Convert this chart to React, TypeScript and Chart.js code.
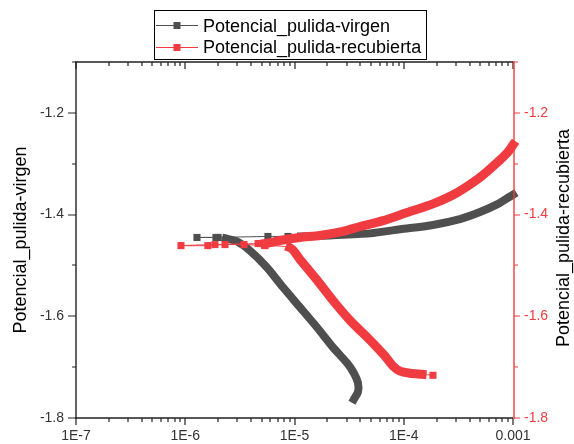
import React, { useEffect, useRef } from 'react';
import { Chart, registerables } from 'chart.js';

Chart.register(...registerables);

// ---- text ----
const xTickLabels = ['1E-7', '1E-6', '1E-5', '1E-4', '0.001'];
const yTickLabels = ['-1.8', '-1.6', '-1.4', '-1.2'];
const legendLabels = ['Potencial_pulida-virgen', 'Potencial_pulida-recubierta'];
const leftTitle = 'Potencial_pulida-virgen';
const rightTitle = 'Potencial_pulida-recubierta';

// ---- series: Potencial_pulida-virgen (current A, potential V) ----
const virgenCathI = [3.5e-5, 3.81e-5, 3.81e-5, 3.5e-5, 3.03e-5, 2.25e-5, 1.61e-5, 1.12e-5, 7.85e-6, 5.6e-6, 3.92e-6, 2.98e-6, 2.36e-6];
const virgenCathE = [-1.763, -1.749, -1.731, -1.712, -1.692, -1.661, -1.622, -1.582, -1.543, -1.504, -1.471, -1.453, -1.447];
const virgenJuncI = [2.0e-6, 1.28e-6, 1.91e-6, 5.71e-6, 8.72e-6];
const virgenJuncE = [-1.445, -1.445, -1.445, -1.443, -1.443];
const virgenAnodI = [1.15e-5, 2.11e-5, 4.91e-5, 9.25e-5, 1.8e-4, 3.27e-4, 4.99e-4, 7.15e-4, 9.0e-4, 1.0e-3];
const virgenAnodE = [-1.443, -1.441, -1.437, -1.429, -1.421, -1.409, -1.395, -1.38, -1.367, -1.361];

// ---- series: Potencial_pulida-recubierta ----
const recubTailI = [1.85e-4];
const recubTailE = [-1.716];
const recubCathI = [1.47e-4, 1.14e-4, 9.25e-5, 7.98e-5, 6.73e-5, 5.46e-5, 4.61e-5, 3.22e-5, 2.25e-5, 1.61e-5, 1.12e-5, 9.1e-6];
const recubCathE = [-1.714, -1.712, -1.708, -1.698, -1.678, -1.657, -1.641, -1.608, -1.569, -1.529, -1.488, -1.465];
const recubJuncI = [5.37e-6, 3.45e-6, 2.31e-6, 1.61e-6, 9.14e-7, 1.87e-6, 4.64e-6];
const recubJuncE = [-1.461, -1.459, -1.459, -1.461, -1.461, -1.459, -1.457];
const recubAnodI = [5.37e-6, 7.36e-6, 1.12e-5, 1.71e-5, 2.78e-5, 3.98e-5, 6.46e-5, 1.07e-4, 1.85e-4, 3.07e-4, 4.99e-4, 7.15e-4, 9.0e-4, 1.0e-3];
const recubAnodE = [-1.457, -1.451, -1.445, -1.441, -1.433, -1.4235, -1.412, -1.396, -1.379, -1.357, -1.327, -1.298, -1.277, -1.263];

const GRAY = '#4f4f4f';
const RED = '#f03c41';
const AXIS = '#222222';
const LABEL = '#333333';
const FONT = "'Liberation Sans', Arial, sans-serif";

type Section = { i: number[]; e: number[]; sparse: boolean };

function build(sections: Section[]) {
  const data: { x: number; y: number }[] = [];
  const sparse: boolean[] = [];
  sections.forEach((s) => {
    s.i.forEach((c, k) => {
      data.push({ x: c, y: s.e[k] });
      sparse.push(s.sparse);
    });
  });
  return { data, sparse };
}

function makeDataset(label: string, color: string, sections: Section[], width: number, order: number) {
  const { data, sparse } = build(sections);
  return {
    label,
    data,
    showLine: true,
    order,
    clip: false as any,
    tension: 0.25,
    borderColor: color,
    backgroundColor: color,
    borderWidth: width,
    borderCapStyle: 'square' as const,
    borderJoinStyle: 'round' as const,
    pointStyle: 'rect' as const,
    pointRadius: (c: any) => (sparse[c.dataIndex] ? 5 : 0),
    pointBorderWidth: 0,
    segment: {
      borderWidth: (c: any) => (sparse[c.p0DataIndex] || sparse[c.p1DataIndex] ? 1 : width),
    },
  };
}

const isPow10 = (v: number) => {
  const e = Math.log10(v);
  return Math.abs(e - Math.round(e)) < 1e-6;
};

const decorPlugin = {
  id: 'decor',
  afterDraw(chart: any) {
    const { ctx, chartArea } = chart;
    const L = Math.round(chartArea.left);
    const R = Math.round(chartArea.right);
    const T = Math.round(chartArea.top);
    const B = Math.round(chartArea.bottom);
    const xs = chart.scales.x;
    const ys = chart.scales.y;
    const y2 = chart.scales.y2;
    ctx.save();
    ctx.lineWidth = 1.4;
    ctx.lineCap = 'butt';
    ctx.strokeStyle = AXIS;
    ctx.beginPath();
    // frame lines
    ctx.moveTo(L - 1, T);
    ctx.lineTo(R, T);
    ctx.moveTo(L - 1, B);
    ctx.lineTo(R, B);
    ctx.moveTo(L, T);
    ctx.lineTo(L, B + 1);
    ctx.stroke();
    ctx.lineWidth = 1.2;
    ctx.beginPath();
    // x ticks (bottom outward, top inward)
    for (let d = -7; d <= -3; d++) {
      for (let m = 1; m <= 9; m++) {
        if (d === -3 && m > 1) break;
        const v = m * Math.pow(10, d);
        const px = Math.round(xs.getPixelForValue(v));
        const len = m === 1 ? 7 : 4;
        ctx.moveTo(px, B);
        ctx.lineTo(px, B + len);
        ctx.moveTo(px, T);
        ctx.lineTo(px, T + len);
      }
    }
    // left ticks (outward)
    ys.ticks.forEach((t: any) => {
      const major = Math.abs(t.value * 5 - Math.round(t.value * 5)) < 1e-6;
      const py = Math.round(ys.getPixelForValue(t.value));
      const len = major ? 8 : 4;
      ctx.moveTo(L - len, py);
      ctx.lineTo(L, py);
    });
    ctx.stroke();
    // right axis (red)
    ctx.strokeStyle = RED;
    ctx.lineWidth = 1.4;
    ctx.beginPath();
    ctx.moveTo(R + 1, T - 1);
    ctx.lineTo(R + 1, B + 1);
    ctx.stroke();
    ctx.lineWidth = 1.2;
    ctx.beginPath();
    y2.ticks.forEach((t: any) => {
      const major = Math.abs(t.value * 5 - Math.round(t.value * 5)) < 1e-6;
      const py = Math.round(y2.getPixelForValue(t.value));
      const len = major ? 6 : 4;
      ctx.moveTo(R + 1, py);
      ctx.lineTo(R + 1 + len, py);
    });
    ctx.stroke();

    // right title (reads bottom to top)
    ctx.save();
    ctx.translate(564, (chartArea.top + chartArea.bottom) / 2 - 2);
    ctx.rotate(-Math.PI / 2);
    ctx.fillStyle = '#000';
    ctx.font = `18px ${FONT}`;
    ctx.textAlign = 'center';
    ctx.textBaseline = 'middle';
    ctx.fillText(rightTitle, 0, 0);
    ctx.restore();

    // legend
    ctx.strokeStyle = '#000';
    ctx.lineWidth = 1;
    ctx.strokeRect(154.5, 10.5, 272, 49);
    const rows = [
      { color: GRAY, y: 25, base: 31.5, label: legendLabels[0] },
      { color: RED, y: 47, base: 53, label: legendLabels[1] },
    ];
    rows.forEach((r) => {
      ctx.strokeStyle = r.color;
      ctx.lineWidth = 1;
      ctx.beginPath();
      ctx.moveTo(156, r.y + 0.5);
      ctx.lineTo(198, r.y + 0.5);
      ctx.stroke();
      ctx.fillStyle = r.color;
      ctx.fillRect(173.5, r.y - 3, 7, 7);
      ctx.fillStyle = '#000';
      ctx.font = `18px ${FONT}`;
      ctx.textAlign = 'left';
      ctx.textBaseline = 'alphabetic';
      ctx.fillText(r.label, 203, r.base);
    });
    ctx.restore();
  },
};

export default function App() {
  const ref = useRef<HTMLCanvasElement>(null);
  useEffect(() => {
    if (!ref.current) return;
    Chart.defaults.font.family = FONT;
    const virgen = makeDataset(legendLabels[0], GRAY, [
      { i: virgenCathI, e: virgenCathE, sparse: false },
      { i: virgenJuncI, e: virgenJuncE, sparse: true },
      { i: virgenAnodI, e: virgenAnodE, sparse: false },
    ], 8, 2);
    const recub = makeDataset(legendLabels[1], RED, [
      { i: recubTailI, e: recubTailE, sparse: true },
      { i: recubCathI, e: recubCathE, sparse: false },
      { i: recubJuncI, e: recubJuncE, sparse: true },
      { i: recubAnodI, e: recubAnodE, sparse: false },
    ], 9, 1);
    (recub as any).yAxisID = 'y2';
    (virgen as any).yAxisID = 'y';

    const yLabel = (v: any) => {
      const n = Number(v);
      if (Math.abs(n * 5 - Math.round(n * 5)) > 1e-6) return '';
      const idx = Math.round((n + 1.8) * 5);
      return yTickLabels[idx] ?? '';
    };

    const chart = new Chart(ref.current, {
      type: 'scatter',
      data: { datasets: [virgen as any, recub as any] },
      plugins: [decorPlugin],
      options: {
        animation: false,
        responsive: false,
        events: [],
        layout: { padding: { top: 62, left: 0, right: 0, bottom: 0 } },
        plugins: { legend: { display: false }, tooltip: { enabled: false } },
        scales: {
          x: {
            type: 'logarithmic',
            position: 'bottom',
            min: 1e-7,
            max: 1e-3,
            grid: { display: false, drawTicks: false },
            border: { display: false },
            ticks: {
              autoSkip: false,
              maxRotation: 0,
              padding: 10,
              color: LABEL,
              font: { size: 14, family: FONT },
              callback: (v: any) => {
                const n = Number(v);
                if (!isPow10(n)) return '';
                return xTickLabels[Math.round(Math.log10(n)) + 7] ?? '';
              },
            },
            afterFit: (s: any) => { s.height = 26; },
          },
          y: {
            type: 'linear',
            position: 'left',
            min: -1.8,
            max: -1.1,
            grid: { display: false, drawTicks: false },
            border: { display: false },
            ticks: {
              stepSize: 0.1,
              padding: 12,
              color: LABEL,
              font: { size: 14, family: FONT },
              callback: yLabel,
            },
            title: {
              display: true,
              text: leftTitle,
              color: '#000',
              font: { size: 18, family: FONT },
              padding: { top: 10.7, bottom: 0 },
            },
            afterFit: (s: any) => { s.width = 76; },
          },
          y2: {
            type: 'linear',
            position: 'right',
            min: -1.8,
            max: -1.1,
            grid: { display: false, drawTicks: false },
            border: { display: false },
            ticks: {
              stepSize: 0.1,
              padding: 11,
              color: RED,
              font: { size: 14, family: FONT },
              callback: yLabel,
            },
            afterFit: (s: any) => { s.width = 61; },
          },
        },
      },
    });
    return () => chart.destroy();
  }, []);

  return (
    <div style={{ position: 'absolute', left: 0, top: 0, width: 574, height: 444, background: '#fff' }}>
      <canvas ref={ref} width={574} height={444} style={{ display: 'block' }} />
    </div>
  );
}
